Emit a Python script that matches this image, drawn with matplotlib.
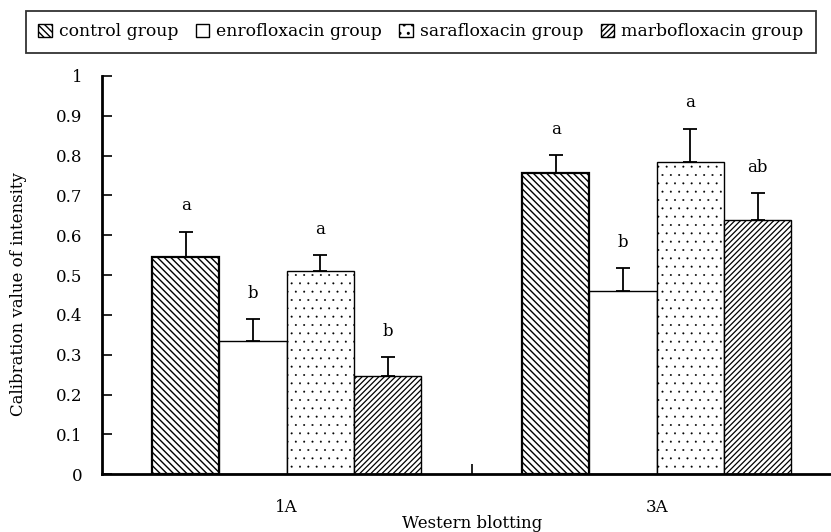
import numpy as np
import matplotlib
matplotlib.use('Agg')
import matplotlib.pyplot as plt
from matplotlib.patches import Patch

plt.rcParams['font.family'] = ['DejaVu Serif']
plt.rcParams['hatch.linewidth'] = 1.0

# datos
categories = ['1A', '3A']
groups = ['control group', 'enrofloxacin group', 'sarafloxacin group', 'marbofloxacin group']
means = {
    'control group': [0.546, 0.755],
    'enrofloxacin group': [0.334, 0.460],
    'sarafloxacin group': [0.511, 0.784],
    'marbofloxacin group': [0.247, 0.638],
}
errors = {
    'control group': [0.063, 0.046],
    'enrofloxacin group': [0.055, 0.057],
    'sarafloxacin group': [0.039, 0.083],
    'marbofloxacin group': [0.047, 0.068],
}
letters = {
    'control group': ['a', 'a'],
    'enrofloxacin group': ['b', 'b'],
    'sarafloxacin group': ['a', 'a'],
    'marbofloxacin group': ['b', 'ab'],
}
hatches = ['\\\\\\\\\\', '', '..', '//////']
hatch_lw = [1.0, 1.0, 0.2, 0.9]

fig = plt.figure(figsize=(8.31, 5.32), dpi=100)
ax = fig.add_axes([0.1224, 0.1085, 0.8905, 0.749])

x = np.arange(len(categories))
w = 0.182
for i, g in enumerate(groups):
    pos = x + (i - 1.5) * w
    with plt.rc_context({'hatch.linewidth': hatch_lw[i]}):
        ax.bar(pos, means[g], width=w, color='white', edgecolor='black',
               linewidth=1.6 if i == 0 else 1.0, hatch=hatches[i])
    err = [np.zeros(len(categories)), errors[g]]
    ax.errorbar(pos, means[g], yerr=err, fmt='none', ecolor='black',
                elinewidth=1.3, capsize=5, capthick=1.3)
    for p, m, e, lab in zip(pos, means[g], errors[g], letters[g]):
        ax.text(p, m + e + 0.065, lab, ha='center', va='center', fontsize=12)

ax.set_xlim(-0.5, 1.5)
ax.set_ylim(0, 1)
ax.set_yticks(np.arange(0, 1.01, 0.1))
ax.set_yticklabels(['0'] + [f'{v:.1f}' for v in np.arange(0.1, 0.95, 0.1)] + ['1'])
ax.set_xticks(x)
ax.set_xticklabels(categories)
ax.set_xticks([0.5], minor=True)
ax.tick_params(axis='x', which='major', length=0, labelsize=12, pad=18)
ax.tick_params(axis='x', which='minor', direction='in', length=7, width=1.2)
ax.tick_params(axis='y', direction='in', length=7, width=1.2, labelsize=12, pad=14)
ax.spines['top'].set_visible(False)
ax.spines['right'].set_visible(False)
ax.spines['left'].set_linewidth(2)
ax.spines['bottom'].set_linewidth(2)
ax.set_ylabel('Calibration value of intensity', fontsize=12)
ax.yaxis.set_label_coords(-0.101, 0.452)
ax.set_xlabel('Western blotting', fontsize=12, labelpad=-1)

handles = []
for g, h, lw in zip(groups, hatches, hatch_lw):
    with plt.rc_context({'hatch.linewidth': lw}):
        handles.append(Patch(facecolor='white', edgecolor='black', hatch=h, label=g))
leg = fig.legend(handles=handles, loc='upper left', bbox_to_anchor=(26 / 831, 1 - 11 / 532),
                 ncol=4, frameon=True, fancybox=False, edgecolor='black',
                 fontsize=12.4, handlelength=0.8, handleheight=0.8, handletextpad=0.4,
                 columnspacing=1.0, borderpad=0.72, borderaxespad=0)
leg.get_frame().set_linewidth(1.3)

fig.savefig('out.png', dpi=100)
